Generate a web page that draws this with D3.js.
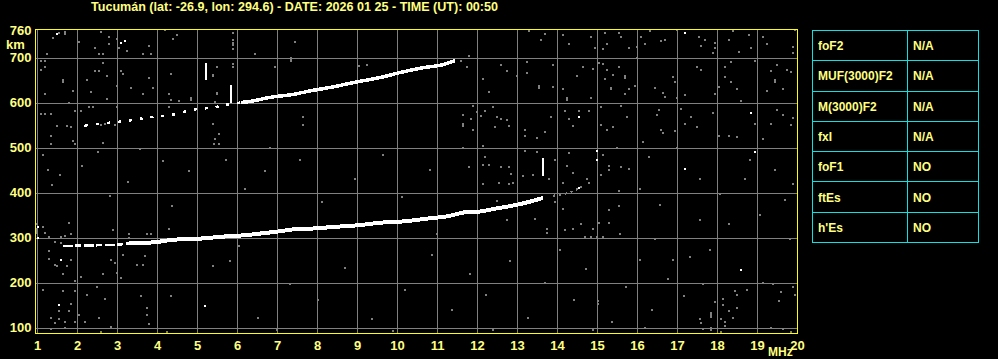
<!DOCTYPE html>
<html>
<head>
<meta charset="utf-8">
<script src="https://cdn.jsdelivr.net/npm/d3@7"></script>
<style>
  html, body { margin: 0; padding: 0; background: #000; }
  svg { display: block; }
</style>
</head>
<body>
<svg id="chart"></svg>
<script>
// ---------- data ----------
const TITLE = "Tucumán (lat: -26.9, lon: 294.6) - DATE: 2026 01 25 - TIME (UT): 00:50";
const freqTicks = d3.range(1, 21);
const heightTicks = [100, 200, 300, 400, 500, 600, 700, 760];
const gridHeights = [100, 200, 300, 400, 500, 600, 700];

const paramNames = ["foF2", "MUF(3000)F2", "M(3000)F2", "fxI", "foF1", "ftEs", "h'Es"];
const paramValues = ["N/A", "N/A", "N/A", "N/A", "NO", "NO", "NO"];

// F-layer trace (MHz, km): thin start, then the thick main part
const lowerStart = [
  [1.65, 281], [2.1, 282], [2.6, 283], [3.0, 284], [3.3, 287]
];
const lowerTrace = [
  [3.3, 287], [3.7, 288], [4.0, 290],
  [4.4, 295], [5.0, 297], [5.4, 300], [5.8, 303], [6.2, 305], [6.6, 309], [7.0, 313],
  [7.4, 318], [7.9, 320], [8.5, 324], [9.0, 327], [9.6, 333], [10.2, 336], [10.75, 342],
  [11.25, 347], [11.7, 356], [12.1, 358], [12.45, 364], [12.9, 371], [13.25, 378],
  [13.5, 384], [13.65, 388]
];
const lowerTail = [[13.9, 393], [14.2, 397], [14.55, 409]];

// second hop trace
const upperDots = [
  [2.2, 549], [2.6, 553], [3.3, 560], [3.8, 567], [4.4, 573], [4.9, 584], [5.4, 589],
  [5.8, 596], [6.1, 600]
];
const upperTrace = [
  [6.1, 600], [6.3, 602], [6.8, 611], [7.4, 618], [7.9, 627], [8.3, 633], [8.9, 644],
  [9.6, 656], [10.1, 667], [10.7, 678], [11.15, 684], [11.45, 693]
];

// vertical echo spikes: MHz, km from, km to
const spikes = [[5.22, 649, 687], [5.85, 600, 640], [13.65, 436, 476]];

// bright speckles
const whiteDots = [
  [1.5, 752], [3.1, 733], [3.2, 736], [2.2, 548], [1.55, 151], [5.2, 147], [17.2, 755],
  [18.85, 576], [15.0, 493], [15.0, 473], [14.55, 567], [18.95, 491], [17.2, 453],
  [18.6, 227], [1.03, 324], [1.03, 298], [1.6, 249], [14.55, 409]
];

// grey noise speckles
const greyDots = [
  [13.3, 758], [13.7, 752], [13.6, 739], [14.15, 749], [14.3, 731], [14.85, 745], [14.95, 721],
  [15.2, 754], [15.25, 731], [15.15, 718], [15.55, 754], [15.6, 745], [15.8, 722], [16.0, 724],
  [16.1, 746], [16.2, 731], [16.33, 758], [16.6, 736], [16.7, 739], [17.0, 760], [17.55, 746],
  [17.6, 725], [17.7, 739], [17.95, 733], [17.95, 720], [17.9, 710], [18.3, 740], [18.4, 758],
  [18.55, 713], [18.8, 749], [18.85, 722], [19.15, 746], [19.25, 731], [19.95, 760], [19.9, 724],
  [19.9, 709],
  [11.35, 692], [11.6, 692], [11.75, 679], [11.8, 703], [12.15, 653], [12.3, 623], [12.6, 684],
  [12.75, 670], [13.0, 658], [13.25, 691], [13.25, 666], [13.55, 637], [13.55, 632], [13.9, 684],
  [13.9, 634], [14.15, 630], [14.25, 609], [14.25, 605], [14.5, 660], [14.65, 679], [14.85, 610],
  [14.9, 675], [15.05, 688], [15.15, 686], [15.25, 672], [15.2, 653], [15.4, 661], [15.35, 633],
  [15.35, 629], [15.55, 679], [15.7, 658], [15.7, 654], [15.7, 619], [15.8, 630], [15.95, 637],
  [16.0, 698], [16.45, 633], [16.65, 622], [16.7, 613], [16.9, 657], [16.95, 646], [17.0, 609],
  [17.2, 616], [17.5, 679], [17.6, 672], [17.95, 618], [18.05, 634], [18.2, 679], [18.2, 657],
  [18.35, 691], [18.35, 645], [18.5, 630], [18.6, 603], [18.95, 692], [19.25, 625], [19.35, 670],
  [19.45, 649], [19.45, 645], [19.5, 684], [19.65, 630], [19.75, 672], [19.85, 667],
  [11.65, 573], [11.65, 552], [11.65, 547], [11.85, 563], [11.9, 593], [12.0, 578], [12.1, 569],
  [12.2, 582], [12.4, 590], [12.5, 567], [12.6, 563], [12.75, 560], [12.8, 548], [12.45, 545],
  [11.9, 540], [13.2, 540], [13.2, 525], [13.5, 522], [13.7, 534], [13.85, 567], [14.2, 582],
  [14.3, 563], [14.4, 548], [14.55, 581], [14.8, 582], [15.1, 590], [15.1, 551], [15.25, 540],
  [15.4, 545], [15.6, 593], [15.75, 567], [16.15, 512], [16.5, 573], [16.55, 584], [16.6, 540],
  [16.65, 533], [16.95, 537], [17.1, 585], [17.2, 552], [17.35, 567], [17.5, 545], [17.9, 576],
  [18.05, 525], [18.3, 525], [18.5, 524], [18.95, 553], [19.15, 518], [19.35, 552], [19.5, 584],
  [19.65, 572], [19.85, 551], [19.9, 566],
  [11.65, 498], [12.15, 504], [12.2, 478], [11.8, 456], [12.15, 462], [12.3, 462], [12.6, 456],
  [12.8, 456], [12.85, 442], [12.55, 422], [12.8, 418], [12.9, 422], [12.15, 418], [13.15, 436],
  [13.4, 440], [13.2, 493], [13.5, 491], [13.95, 473], [14.3, 487], [14.15, 422], [13.8, 431],
  [14.25, 460], [14.4, 444], [14.6, 413], [14.75, 429], [14.8, 422], [15.15, 484], [15.3, 460],
  [15.1, 440], [15.3, 451], [15.6, 456], [15.5, 500], [15.8, 453], [15.55, 404], [15.55, 369],
  [15.3, 360], [15.05, 333], [15.3, 333], [14.9, 320], [14.4, 318], [14.2, 316], [13.75, 318],
  [13.75, 309], [13.45, 342], [12.75, 338], [12.5, 382], [13.95, 378], [14.15, 364], [14.6, 329],
  [14.7, 302], [14.85, 302], [15.0, 302], [15.15, 302], [11.0, 307],
  [16.08, 407], [16.58, 373], [17.58, 340], [18.08, 396], [18.7, 429], [19.08, 351], [19.7, 384],
  [19.83, 296], [17.83, 273], [16.45, 296], [15.58, 307], [18.83, 473], [19.45, 451], [17.58, 429],
  [16.3, 480], [17.0, 500], [19.9, 420], [18.3, 330], [16.9, 250],
  [1.5, 752], [1.55, 755], [1.7, 757], [1.7, 753], [1.4, 744], [1.25, 708], [1.1, 693], [1.2, 693],
  [1.2, 678], [1.1, 673], [1.65, 651], [1.65, 645], [1.2, 618], [1.35, 574], [1.1, 574], [1.2, 574],
  [1.5, 548], [1.75, 548], [1.85, 546], [1.95, 581], [1.8, 598], [1.9, 626], [2.05, 734], [2.45, 721],
  [2.55, 708], [2.65, 708], [2.6, 757], [2.8, 746], [2.8, 729], [2.65, 687], [2.45, 670], [2.55, 670],
  [2.75, 660], [2.25, 649], [2.35, 624], [2.75, 608], [2.4, 590], [2.3, 589], [2.1, 580], [2.6, 550],
  [2.7, 553], [2.95, 551], [3.0, 741], [3.05, 721], [3.25, 715], [3.65, 708], [3.85, 708], [3.8, 726],
  [3.1, 669], [3.15, 664], [3.0, 636], [3.35, 632], [3.0, 589], [3.8, 654], [3.9, 632], [3.65, 619],
  [4.2, 760], [4.5, 751], [4.4, 742], [4.35, 664], [4.3, 619], [4.35, 606], [4.55, 604], [4.85, 608],
  [4.3, 589], [5.9, 755], [5.9, 740], [5.9, 733], [5.9, 727], [5.9, 718], [5.9, 685], [5.9, 680],
  [5.5, 678], [5.4, 658], [5.5, 619], [5.45, 600], [6.45, 708], [6.95, 678], [7.45, 734], [7.35, 696],
  [7.35, 692], [7.65, 568], [7.65, 550], [9.05, 682], [5.4, 553], [5.45, 520], [5.55, 530], [5.55, 508],
  [1.35, 526], [1.35, 508], [1.9, 515], [2.65, 509], [5.5, 680], [5.4, 662], [5.5, 622], [5.45, 602],
  [4.85, 609], [4.85, 605], [5.4, 553], [6.95, 680], [7.35, 698], [9.25, 684], [10.75, 682], [6.45, 707],
  [1.15, 484], [1.28, 451], [1.38, 416], [1.58, 440], [1.95, 507], [2.13, 458], [2.53, 491], [2.83, 393],
  [3.28, 424], [3.58, 496], [4.15, 469], [4.38, 371], [4.8, 447], [5.43, 507], [5.73, 473], [6.2, 407],
  [6.7, 447], [6.83, 500], [7.58, 473], [8.13, 378], [8.95, 429], [9.65, 484], [10.13, 391], [10.83, 451],
  [1.15, 324], [1.2, 311], [1.3, 302], [1.45, 289], [1.6, 287], [1.6, 302], [1.7, 304], [1.85, 307],
  [1.8, 333], [1.3, 269], [1.3, 253], [1.45, 240], [1.65, 218], [1.5, 236], [1.85, 249], [1.75, 236],
  [1.95, 204], [2.1, 213], [1.65, 182], [2.25, 173], [2.5, 191], [2.65, 218], [2.9, 316], [3.3, 307],
  [3.3, 298], [3.75, 307], [3.85, 307], [4.3, 320], [3.15, 262], [2.85, 249], [2.95, 244], [3.0, 222],
  [3.1, 209], [3.7, 258], [3.5, 240], [3.65, 240], [4.35, 169], [5.4, 236], [6.05, 280],
  [1.15, 183], [1.95, 182], [1.85, 153], [1.55, 136], [1.8, 136], [1.35, 122], [1.45, 109], [1.55, 120],
  [1.7, 113], [1.95, 113], [2.05, 127], [2.2, 113], [2.25, 173], [2.55, 122], [2.7, 164], [2.85, 102],
  [2.6, 91], [1.35, 96], [1.7, 100], [3.6, 169], [3.75, 144], [3.75, 127], [3.8, 107], [4.35, 171],
  [4.25, 91], [1.0, 330], [1.0, 320], [1.0, 315], [1.0, 310],
  [17.65, 196], [18.45, 182], [18.5, 173], [18.75, 184], [19.4, 196], [19.6, 178], [19.55, 158],
  [19.95, 173], [19.9, 191], [17.95, 156], [18.15, 164], [18.15, 151], [17.85, 133], [17.85, 128],
  [17.85, 124], [18.3, 136], [18.4, 122], [18.5, 144], [18.1, 118], [18.2, 113], [18.2, 104], [17.6, 111],
  [17.85, 100], [17.85, 95], [18.1, 91], [19.35, 100], [19.65, 96], [19.85, 91], [17.65, 96], [19.15, 200],
  [5.83, 247], [6.53, 122], [7.33, 196], [8.03, 162], [8.7, 233], [9.38, 118], [10.2, 184], [10.88, 262],
  [11.38, 140], [11.83, 218], [12.23, 173], [12.83, 247], [13.28, 122], [13.7, 200], [14.08, 273],
  [14.43, 162], [14.73, 229], [15.03, 158], [15.03, 153], [15.38, 113], [15.73, 189], [16.08, 251],
  [16.38, 140], [16.78, 207], [17.18, 171], [17.33, 256], [17.58, 118], [7.0, 95], [9.9, 92], [12.4, 95],
  [14.9, 94], [16.2, 98]
];

// ---------- layout ----------
const W = 998, H = 359;
const plot = { left: 35.5, right: 797.5, top: 29.5, bottom: 333.5 };
const table = { left: 812, mid: 907, right: 978, top: 30, bottom: 242 };

const FONT = "'Liberation Sans', Arial, sans-serif";
const TEXT = "#ffff80";
const GREY = "#808080";

const svg = d3.select("#chart")
  .attr("width", W)
  .attr("height", H)
  .style("background", "#000");

const x = d3.scaleLinear().domain([1, 20]).range([37, 797]);
const y = d3.scaleLinear().domain([100, 700]).range([327.5, 57.5]);
const px = v => Math.round(v) + 0.5;

// title
svg.append("text")
  .attr("x", 91)
  .attr("y", 11)
  .attr("textLength", 407)
  .attr("lengthAdjust", "spacingAndGlyphs")
  .attr("fill", TEXT)
  .style("font", `bold 12px ${FONT}`)
  .text(TITLE);

// ---------- grid ----------
const grid = svg.append("g").attr("shape-rendering", "crispEdges");

grid.selectAll(".vg")
  .data(freqTicks.filter(f => f < 20))
  .join("line")
  .attr("x1", d => px(x(d))).attr("x2", d => px(x(d)))
  .attr("y1", plot.top).attr("y2", plot.bottom)
  .attr("stroke", GREY);

grid.selectAll(".hg")
  .data(gridHeights)
  .join("line")
  .attr("x1", plot.left).attr("x2", plot.right)
  .attr("y1", d => px(y(d))).attr("y2", d => px(y(d)))
  .attr("stroke", GREY);

// ---------- noise + echoes ----------
const marks = svg.append("g").attr("shape-rendering", "crispEdges");

marks.selectAll(".gd")
  .data(greyDots)
  .join("rect")
  .attr("x", d => Math.round(x(d[0])) - 1)
  .attr("y", d => Math.round(y(d[1])) - 1)
  .attr("width", 2)
  .attr("height", 2)
  .attr("fill", GREY);

const line = d3.line()
  .x(d => x(d[0]))
  .y(d => y(d[1]))
  .curve(d3.curveMonotoneX);

marks.append("path")
  .datum(lowerStart)
  .attr("fill", "none")
  .attr("stroke", "#fff")
  .attr("stroke-width", 2.5)
  .attr("stroke-dasharray", "10,2,6,3")
  .attr("d", line);

marks.append("path")
  .datum(lowerTrace)
  .attr("fill", "none")
  .attr("stroke", "#fff")
  .attr("stroke-width", 4)
  .attr("d", line);

marks.append("path")
  .datum(lowerTail)
  .attr("fill", "none")
  .attr("stroke", GREY)
  .attr("stroke-width", 2)
  .attr("stroke-dasharray", "2,4")
  .attr("d", line);

marks.append("path")
  .datum(upperDots)
  .attr("fill", "none")
  .attr("stroke", "#fff")
  .attr("stroke-width", 2.5)
  .attr("stroke-dasharray", "3,8")
  .attr("d", line);

marks.append("path")
  .datum(upperTrace)
  .attr("fill", "none")
  .attr("stroke", "#fff")
  .attr("stroke-width", 3.5)
  .attr("d", line);

marks.selectAll(".sp")
  .data(spikes)
  .join("rect")
  .attr("x", d => Math.round(x(d[0])) - 1)
  .attr("y", d => y(d[2]))
  .attr("width", 2)
  .attr("height", d => y(d[1]) - y(d[2]))
  .attr("fill", "#fff");

marks.selectAll(".wd")
  .data(whiteDots)
  .join("rect")
  .attr("x", d => Math.round(x(d[0])) - 1)
  .attr("y", d => Math.round(y(d[1])) - 1)
  .attr("width", 2)
  .attr("height", 2)
  .attr("fill", "#fff");

// plot frame
svg.append("rect")
  .attr("x", plot.left)
  .attr("y", plot.top)
  .attr("width", plot.right - plot.left)
  .attr("height", plot.bottom - plot.top)
  .attr("fill", "none")
  .attr("stroke", "#ffff00")
  .attr("shape-rendering", "crispEdges");

// ---------- axes ----------
const yAxis = svg.append("g")
  .attr("transform", `translate(${plot.left},0)`)
  .call(d3.axisLeft(y).tickValues(heightTicks).tickSize(0).tickPadding(4));

const xAxis = svg.append("g")
  .attr("transform", `translate(0,${plot.bottom})`)
  .call(d3.axisBottom(x).tickValues(freqTicks).tickFormat(d3.format("d")).tickSize(0).tickPadding(7));

[yAxis, xAxis].forEach(a => {
  a.select(".domain").remove();
  a.selectAll("text")
    .attr("fill", TEXT)
    .style("font", `bold 13px ${FONT}`);
});

svg.append("text")
  .attr("x", 6)
  .attr("y", 49)
  .attr("fill", TEXT)
  .style("font", `bold 13px ${FONT}`)
  .text("km");

svg.append("text")
  .attr("x", 768)
  .attr("y", 356)
  .attr("fill", TEXT)
  .style("font", `bold 12px ${FONT}`)
  .text("MHz");

// ---------- parameter table ----------
const row = d3.scaleBand().domain(paramNames).range([table.top, table.bottom]);
const tbl = svg.append("g").attr("shape-rendering", "crispEdges");
const CYAN = "#10e0e0";

tbl.append("rect")
  .attr("x", table.left + 0.5)
  .attr("y", table.top + 0.5)
  .attr("width", table.right - table.left)
  .attr("height", table.bottom - table.top)
  .attr("fill", "none")
  .attr("stroke", CYAN);

tbl.append("line")
  .attr("x1", table.mid + 0.5).attr("x2", table.mid + 0.5)
  .attr("y1", table.top).attr("y2", table.bottom)
  .attr("stroke", CYAN);

tbl.selectAll(".rl")
  .data(paramNames.slice(1))
  .join("line")
  .attr("x1", table.left).attr("x2", table.right)
  .attr("y1", d => px(row(d))).attr("y2", d => px(row(d)))
  .attr("stroke", CYAN);

tbl.selectAll(".pn")
  .data(paramNames)
  .join("text")
  .attr("x", table.left + 6)
  .attr("y", d => row(d) + row.bandwidth() / 2 + 5)
  .attr("fill", TEXT)
  .style("font", `bold 12px ${FONT}`)
  .text(d => d);

tbl.selectAll(".pv")
  .data(paramValues)
  .join("text")
  .attr("x", table.mid + 6)
  .attr("y", (d, i) => row(paramNames[i]) + row.bandwidth() / 2 + 5)
  .attr("fill", TEXT)
  .style("font", `bold 12px ${FONT}`)
  .text(d => d);
</script>
</body>
</html>
